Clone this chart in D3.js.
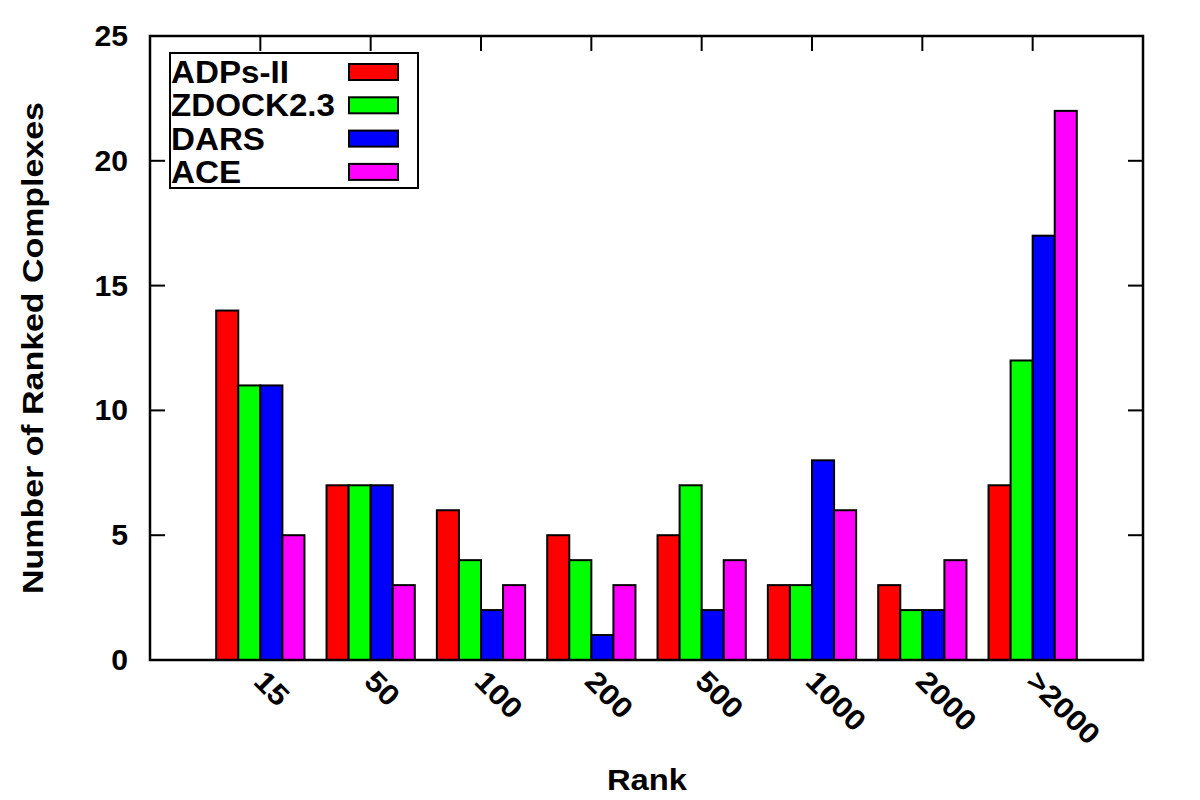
<!DOCTYPE html>
<html lang="en">
<head>
<meta charset="UTF-8">
<title>Rank histogram</title>
<script src="https://d3js.org/d3.v7.min.js"></script>
<style>
    html, body { margin: 0; padding: 0; background: #fff; }
    svg text { font-family: "Liberation Sans", Arial, Helvetica, sans-serif; font-weight: bold; fill: #000; }
</style>
</head>
<body>
<svg id="chart" width="1200" height="800"></svg>
<script>
    // data
    const ranks = ["15", "50", "100", "200", "500", "1000", "2000", ">2000"];
    const methods = ["ADPs-II", "ZDOCK2.3", "DARS", "ACE"];
    const colors = ["#ff0000", "#00ff00", "#0000ff", "#ff00ff"];
    const adps = [14, 7, 6, 5, 5, 3, 3, 7];
    const zdock = [11, 7, 4, 4, 7, 3, 2, 12];
    const dars = [11, 7, 2, 1, 2, 8, 2, 17];
    const ace = [5, 3, 3, 3, 4, 6, 4, 22];
    const yTicks = [0, 5, 10, 15, 20, 25];

    const series = [adps, zdock, dars, ace];

    const pLeft = 150, pRight = 1143, pTop = 36, pBottom = 660;
    const svg = d3.select("#chart");

    // gnuplot style histogram: groups at 0..7, range -1..8
    const x = d3.scaleLinear().domain([-1, ranks.length]).range([pLeft, pRight]);
    const y = d3.scaleLinear().domain([0, 25]).range([pBottom, pTop]);
    const barW = 0.2;
    const tickLen = 15;

    // ticks (bottom ones mostly hidden under bars)
    const g = svg.append("g");
    ranks.forEach((r, i) => {
        g.append("line")
            .attr("x1", x(i)).attr("x2", x(i))
            .attr("y1", pBottom).attr("y2", pBottom - tickLen)
            .attr("stroke", "#000").attr("stroke-width", 2);
        g.append("line")
            .attr("x1", x(i)).attr("x2", x(i))
            .attr("y1", pTop).attr("y2", pTop + tickLen)
            .attr("stroke", "#000").attr("stroke-width", 2);
    });
    yTicks.forEach(t => {
        if (t === 0 || t === 25) return;
        g.append("line")
            .attr("x1", pLeft).attr("x2", pLeft + tickLen)
            .attr("y1", y(t)).attr("y2", y(t))
            .attr("stroke", "#000").attr("stroke-width", 2);
        g.append("line")
            .attr("x1", pRight).attr("x2", pRight - tickLen)
            .attr("y1", y(t)).attr("y2", y(t))
            .attr("stroke", "#000").attr("stroke-width", 2);
    });

    // bars
    series.forEach((vals, j) => {
        svg.append("g").selectAll("rect")
            .data(vals)
            .join("rect")
            .attr("x", (d, i) => x(i - 0.4 + j * barW))
            .attr("width", x(barW) - x(0))
            .attr("y", d => y(d))
            .attr("height", d => y(0) - y(d))
            .attr("fill", colors[j])
            .attr("stroke", "#000")
            .attr("stroke-width", 2);
    });

    // frame
    svg.append("rect")
        .attr("x", pLeft).attr("y", pTop)
        .attr("width", pRight - pLeft).attr("height", pBottom - pTop)
        .attr("fill", "none").attr("stroke", "#000").attr("stroke-width", 2.5);

    // y tick labels
    svg.append("g").selectAll("text")
        .data(yTicks)
        .join("text")
        .attr("transform", d => "translate(" + (pLeft - 22) + "," + (y(d) + 10) + ") scale(1.04,1)")
        .attr("text-anchor", "end")
        .attr("font-size", 29)
        .text(d => d);

    // x tick labels, rotated (the postscript font is a bit wider than Arial)
    svg.append("g").selectAll("text")
        .data(ranks)
        .join("text")
        .attr("transform", (d, i) => "translate(" + (x(i) - 8) + ",683) rotate(45) scale(1.1,1)")
        .attr("font-size", 29)
        .text(d => d);

    // axis titles
    svg.append("text")
        .attr("transform", "translate(647,790) scale(1.13,1)")
        .attr("text-anchor", "middle")
        .attr("font-size", 29)
        .text("Rank");
    svg.append("text")
        .attr("transform", "translate(43,348) rotate(-90) scale(1.17,1)")
        .attr("text-anchor", "middle")
        .attr("font-size", 29)
        .text("Number of Ranked Complexes");

    // legend
    const lg = svg.append("g");
    lg.append("rect")
        .attr("x", 170).attr("y", 53)
        .attr("width", 248).attr("height", 135)
        .attr("fill", "#fff").attr("stroke", "#000").attr("stroke-width", 2);
    methods.forEach((m, j) => {
        const cy = 72 + j * 33.3;
        lg.append("text")
            .attr("transform", "translate(171," + (cy + 11) + ") scale(1.07,1)")
            .attr("font-size", 31)
            .text(m);
        lg.append("rect")
            .attr("x", 349).attr("y", cy - 8)
            .attr("width", 49).attr("height", 16)
            .attr("fill", colors[j])
            .attr("stroke", "#000").attr("stroke-width", 2);
    });
</script>
</body>
</html>
